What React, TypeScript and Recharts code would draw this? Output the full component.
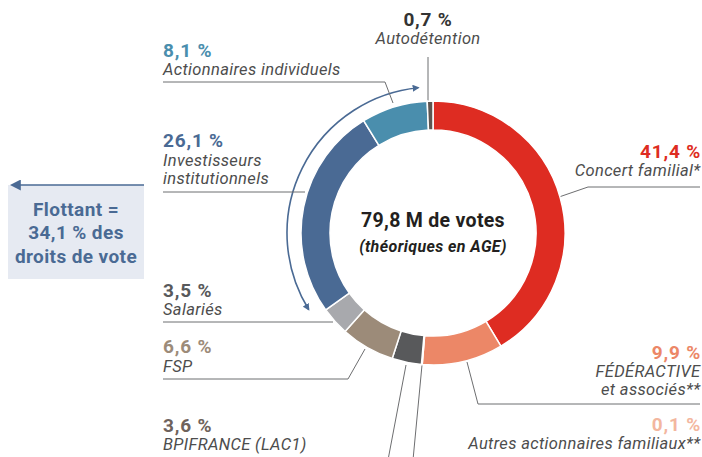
import React from "react";
import { PieChart, Pie, Cell, Customized } from "recharts";

const names = [
  "Concert familial*",
  "FÉDÉRACTIVE et associés**",
  "Autres actionnaires familiaux**",
  "BPIFRANCE (LAC1)",
  "FSP",
  "Salariés",
  "Investisseurs institutionnels",
  "Actionnaires individuels",
  "Autodétention",
];
const values = [41.4, 9.9, 0.1, 3.6, 6.6, 3.5, 26.1, 8.1, 0.7];
const colors = [
  "#DE2C22",
  "#EC8767",
  "#F3B79F",
  "#58595B",
  "#9C8B79",
  "#A8A9AD",
  "#4A6A94",
  "#4A8EAD",
  "#5E5550",
];

const data = names.map((name, i) => ({ name, value: values[i] }));

const FONT = "Roboto, 'Noto Sans', sans-serif";
const LABEL = "#4D4D4D";
const LINE = "#6D6E70";
const BLUE = "#4A6A94";

const fmt = (v: number) => v.toFixed(1).replace(".", ",") + " %";

const CX = 433;
const CY = 233;

function polar(r: number, deg: number) {
  const a = (deg * Math.PI) / 180;
  return [CX + r * Math.cos(a), CY - r * Math.sin(a)];
}

const NUM = { fontSize: 19, fontWeight: 700, letterSpacing: 0.8 } as const;
const LAB = { fontSize: 16.5, fontStyle: "italic", letterSpacing: 0.35, fill: LABEL } as const;

const Overlay = () => {
  const [ax, ay] = polar(146, 211.6);
  const [bx, by] = polar(146, 95.8);
  return (
    <g fontFamily={FONT}>
      <defs>
        <marker id="ah" viewBox="0 0 10 10" refX="8" refY="5" markerWidth="7" markerHeight="7" orient="auto-start-reverse" markerUnits="userSpaceOnUse">
          <path d="M0,0 L10,5 L0,10 Z" fill={BLUE} />
        </marker>
        <marker id="ah2" viewBox="0 0 10 10" refX="8" refY="5" markerWidth="11" markerHeight="11" orient="auto-start-reverse" markerUnits="userSpaceOnUse">
          <path d="M0,0 L10,5 L0,10 Z" fill={BLUE} />
        </marker>
      </defs>

      {/* center */}
      <text x={CX} y={227} textAnchor="middle" fontSize={19.5} fontWeight={700} letterSpacing={0.3} fill="#231F20">
        79,8 M de votes
      </text>
      <text x={CX} y={252} textAnchor="middle" fontSize={16} fontWeight={700} fontStyle="italic" letterSpacing={0.4} fill="#231F20">
        (théoriques en AGE)
      </text>

      {/* arc arrow */}
      <path
        d={`M${ax},${ay} A146,146 0 0 1 ${bx},${by}`}
        fill="none"
        stroke={BLUE}
        strokeWidth={1.6}
        markerStart="url(#ah)"
        markerEnd="url(#ah)"
      />

      {/* Flottant box */}
      <rect x={8} y={185} width={136} height={94} fill="#E6EAF2" />
      <line x1={144} y1={185} x2={12} y2={185} stroke={BLUE} strokeWidth={1.6} markerEnd="url(#ah2)" />
      <text x={76} y={216} textAnchor="middle" fontSize={19} fontWeight={700} letterSpacing={0.4} fill={BLUE}>Flottant =</text>
      <text x={76} y={239} textAnchor="middle" fontSize={19} fontWeight={700} letterSpacing={0.4} fill={BLUE}>34,1 % des</text>
      <text x={76} y={263} textAnchor="middle" fontSize={19} fontWeight={700} letterSpacing={0.4} fill={BLUE}>droits de vote</text>

      {/* leader lines */}
      <g stroke={LINE} strokeWidth={1} fill="none">
        <polyline points="163,82 385,82 393,103" />
        <line x1={428} y1={57} x2={428} y2={101} />
        <line x1={163} y1={192} x2={305} y2={192} />
        <line x1={163} y1={322} x2={333} y2={322} />
        <polyline points="163,379 348,379 365,349" />
        <line x1={406} y1={365} x2={388} y2={460} />
        <line x1={422} y1={365} x2={413} y2={460} />
        <polyline points="467,362 478,404 700,404" />
        <polyline points="559,197 588,187 700,187" />
      </g>

      {/* left labels */}
      <text x={163} y={57} {...NUM} fill={colors[7]}>{fmt(values[7])}</text>
      <text x={163} y={75} {...LAB}>Actionnaires individuels</text>

      <text x={428} y={26} textAnchor="middle" {...NUM} fill="#333333">{fmt(values[8])}</text>
      <text x={428} y={44} textAnchor="middle" {...LAB}>Autodétention</text>

      <text x={163} y={147} {...NUM} fill={colors[6]}>{fmt(values[6])}</text>
      <text x={163} y={166} {...LAB}>Investisseurs</text>
      <text x={163} y={184} {...LAB}>institutionnels</text>

      <text x={163} y={297} {...NUM} fill="#58595B">{fmt(values[5])}</text>
      <text x={163} y={315} {...LAB}>Salariés</text>

      <text x={163} y={353} {...NUM} fill={colors[4]}>{fmt(values[4])}</text>
      <text x={163} y={372} {...LAB}>FSP</text>

      <text x={163} y={432} {...NUM} fill="#6E625C">{fmt(values[3])}</text>
      <text x={163} y={450} {...LAB}>BPIFRANCE (LAC1)</text>

      {/* right labels */}
      <text x={701} y={158} textAnchor="end" {...NUM} fill={colors[0]}>{fmt(values[0])}</text>
      <text x={700.5} y={176} textAnchor="end" {...LAB}>Concert familial*</text>

      <text x={701} y={359} textAnchor="end" {...NUM} fill={colors[1]}>{fmt(values[1])}</text>
      <text x={700.5} y={377} textAnchor="end" {...LAB}>FÉDÉRACTIVE</text>
      <text x={700.5} y={395} textAnchor="end" {...LAB}>et associés**</text>

      <text x={701} y={431} textAnchor="end" {...NUM} fill={colors[2]}>{fmt(values[2])}</text>
      <text x={700.5} y={449} textAnchor="end" {...LAB}>Autres actionnaires familiaux**</text>
    </g>
  );
};

export default function App() {
  return (
    <div style={{ position: "absolute", left: 0, top: 0, width: 702, height: 457, background: "#fff" }}>
      <PieChart width={702} height={457} margin={{ top: 0, right: 0, bottom: 0, left: 0 }}>
        <Pie
          data={data}
          dataKey="value"
          nameKey="name"
          cx={CX}
          cy={CY}
          innerRadius={103}
          outerRadius={132}
          startAngle={90}
          endAngle={-270}
          stroke="#ffffff"
          strokeWidth={1.5}
          isAnimationActive={false}
        >
          {data.map((d, i) => (
            <Cell key={d.name} fill={colors[i]} />
          ))}
        </Pie>
        <Customized component={Overlay} />
      </PieChart>
    </div>
  );
}
